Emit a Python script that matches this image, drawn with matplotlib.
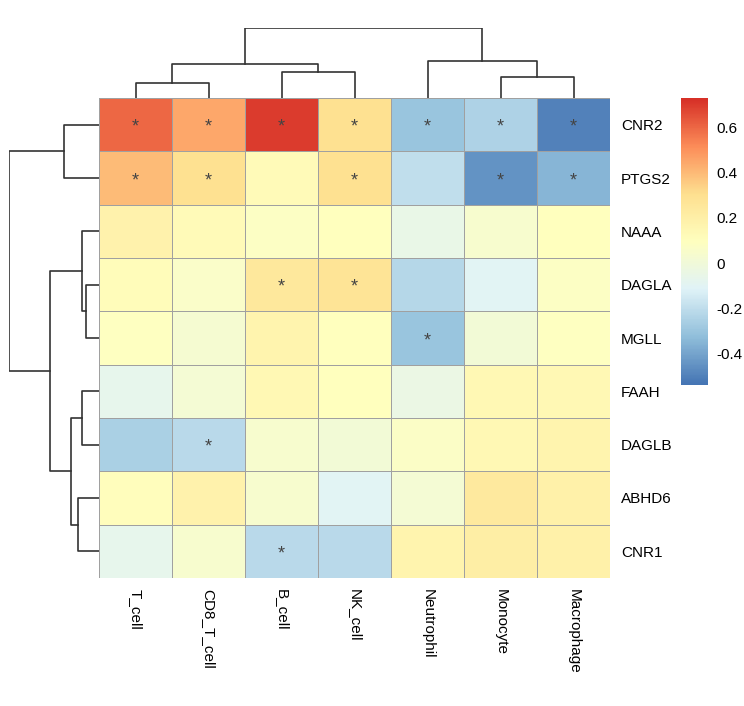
import matplotlib
matplotlib.use("Agg")
import matplotlib.pyplot as plt
import numpy as np
from matplotlib.colors import LinearSegmentedColormap

plt.rcParams['font.family'] = ['Liberation Sans', 'DejaVu Sans']

cols = ["T_cell", "CD8_T_cell", "B_cell", "NK_cell", "Neutrophil", "Monocyte", "Macrophage"]
rows = ["CNR2", "PTGS2", "NAAA", "DAGLA", "MGLL", "FAAH", "DAGLB", "ABHD6", "CNR1"]
values = np.array([
    [0.60, 0.45, 0.70, 0.30, -0.30, -0.25, -0.50],
    [0.40, 0.30, 0.13, 0.30, -0.20, -0.45, -0.35],
    [0.18, 0.13, 0.08, 0.10, -0.05, 0.04, 0.10],
    [0.12, 0.06, 0.25, 0.28, -0.23, -0.10, 0.08],
    [0.09, 0.03, 0.17, 0.10, -0.30, 0.01, 0.09],
    [-0.07, 0.02, 0.14, 0.10, -0.04, 0.14, 0.14],
    [-0.26, -0.22, 0.04, 0.01, 0.07, 0.14, 0.17],
    [0.11, 0.18, 0.04, -0.10, 0.02, 0.24, 0.19],
    [-0.07, 0.04, -0.22, -0.22, 0.17, 0.21, 0.19],
])
stars = [
    [1, 1, 1, 1, 1, 1, 1],
    [1, 1, 0, 1, 0, 1, 1],
    [0, 0, 0, 0, 0, 0, 0],
    [0, 0, 1, 1, 0, 0, 0],
    [0, 0, 0, 0, 1, 0, 0],
    [0, 0, 0, 0, 0, 0, 0],
    [0, 1, 0, 0, 0, 0, 0],
    [0, 0, 0, 0, 0, 0, 0],
    [0, 0, 1, 0, 0, 0, 0],
]
# dendrograms: (left, right, height) with leaves as indices
col_tree = (((0, 1, 15), (2, 3, 26), 34), (4, (5, 6, 21), 37), 70)
row_tree = ((0, 1, 35), ((2, (3, 4, 13), 17), ((5, 6, 17), (7, 8, 21), 28), 49), 90)

W, H = 744, 706
fig = plt.figure(figsize=(W/100, H/100), dpi=100)
x0, x1, y0, y1 = 99, 610, 98, 578
vmin, vmax = -0.537, 0.728
cmap = LinearSegmentedColormap.from_list("ph", ["#4575B4", "#91BFDB", "#E0F3F8", "#FFFFBF", "#FEE090", "#FC8D59", "#D73027"])

ax = fig.add_axes([x0/W, 1-y1/H, (x1-x0)/W, (y1-y0)/H])
ax.pcolormesh(values, cmap=cmap, vmin=vmin, vmax=vmax, edgecolors="#a0a0a0", linewidth=0.6)
ax.set_xlim(0, 7); ax.set_ylim(9, 0)
for i in range(9):
    for j in range(7):
        if stars[i][j]:
            ax.text(j+0.5, i+0.55, "*", ha="center", va="center", fontsize=13, color="#444444")
ax.set_xticks(np.arange(7)+0.5)
ax.set_xticklabels(cols, rotation=-90, fontsize=11, va="top")
ax.set_yticks(np.arange(9)+0.5)
ax.set_yticklabels(rows, fontsize=11)
ax.yaxis.tick_right()
ax.tick_params(length=0, pad=8)
for s in ax.spines.values():
    s.set_visible(False)

def draw(tree, axd, orient):
    def rec(t):
        if isinstance(t, int):
            return t + 0.5, 0
        a, b, h = t
        pa, ha = rec(a); pb, hb = rec(b)
        if orient == "top":
            axd.plot([pa, pa, pb, pb], [ha, h, h, hb], color="#333333", lw=1.2)
        else:
            axd.plot([ha, h, h, hb], [pa, pa, pb, pb], color="#333333", lw=1.2)
        return (pa + pb)/2, h
    rec(tree)

axc = fig.add_axes([x0/W, 1-y0/H, (x1-x0)/W, 70/H])
draw(col_tree, axc, "top")
axc.set_xlim(0, 7); axc.set_ylim(0, 70); axc.axis("off")

axr = fig.add_axes([9/W, 1-y1/H, 90/W, (y1-y0)/H])
draw(row_tree, axr, "left")
axr.set_ylim(9, 0); axr.set_xlim(90, 0); axr.axis("off")

axb = fig.add_axes([681/W, 1-385/H, 27/W, 287/H])
grad = np.linspace(vmin, vmax, 200).reshape(-1, 1)
axb.imshow(grad, cmap=cmap, vmin=vmin, vmax=vmax, aspect="auto", origin="lower",
           extent=[0, 1, vmin, vmax])
axb.set_xticks([])
axb.yaxis.tick_right()
axb.set_yticks([-0.4, -0.2, 0, 0.2, 0.4, 0.6])
axb.set_yticklabels(["-0.4", "-0.2", "0", "0.2", "0.4", "0.6"], fontsize=11)
axb.tick_params(axis="y", length=0, pad=6)
for s in axb.spines.values():
    s.set_visible(False)

fig.savefig("out.png", dpi=100)
